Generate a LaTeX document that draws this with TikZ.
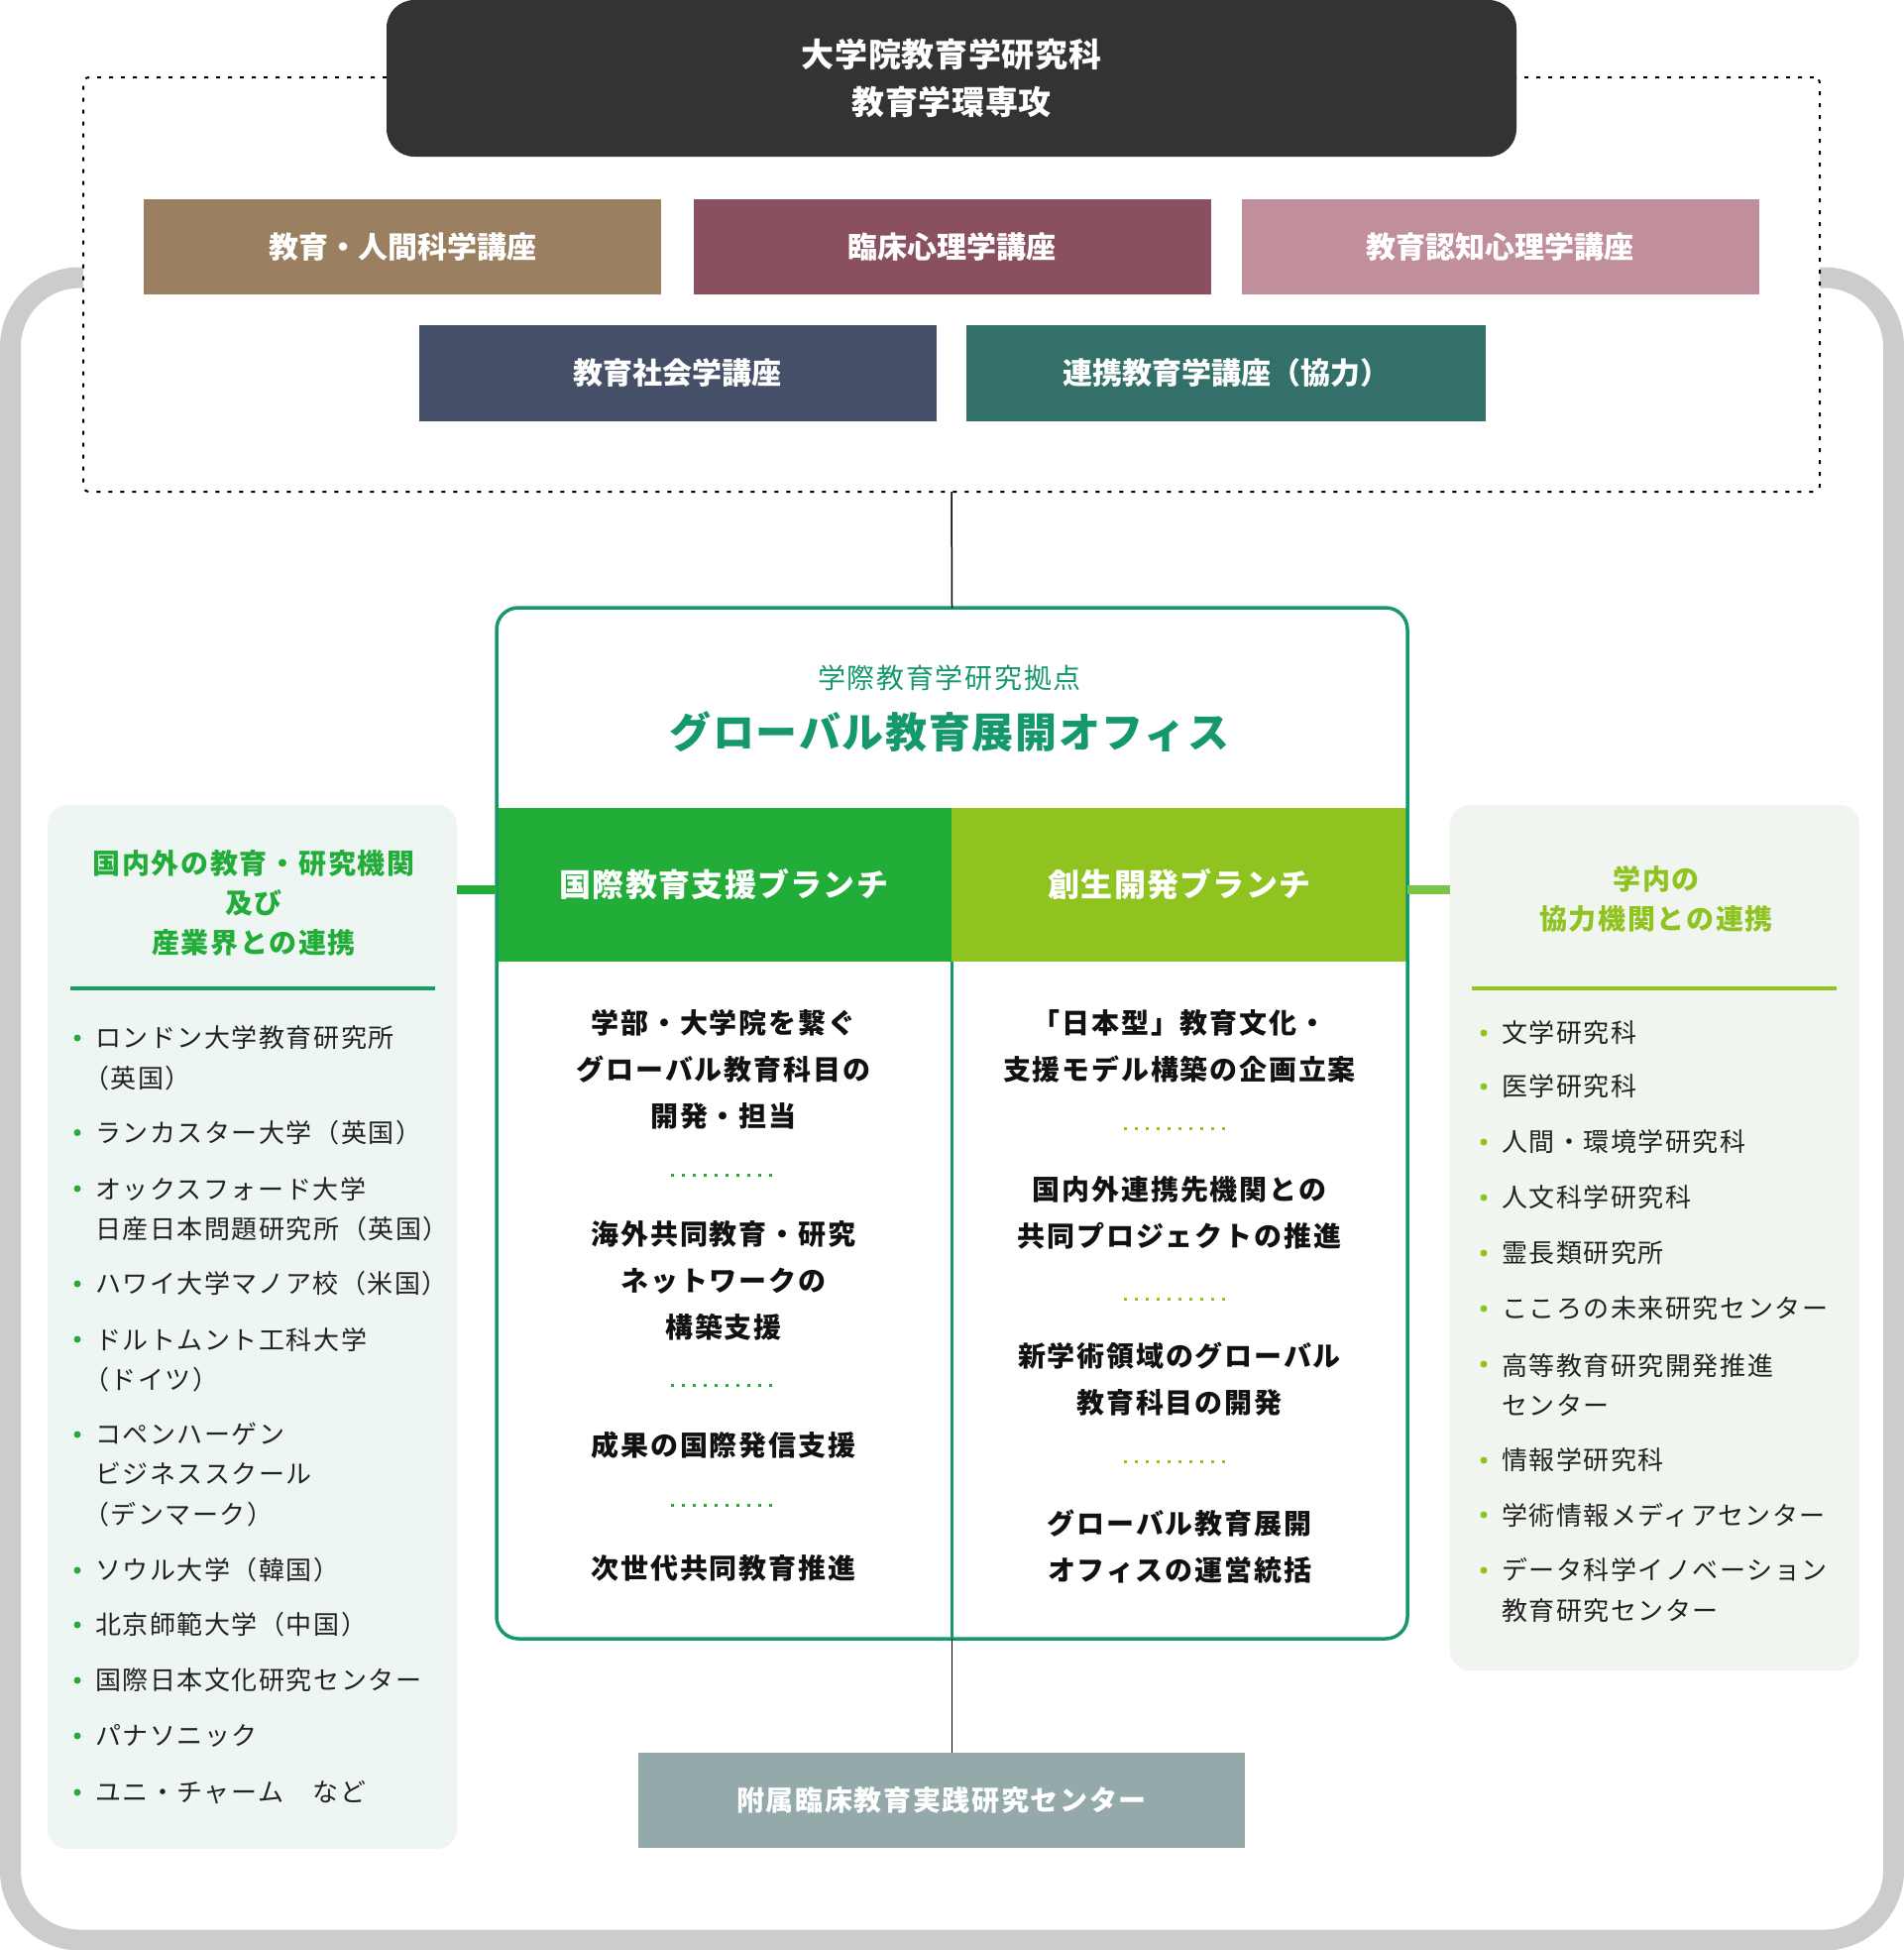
\documentclass[tikz,border=0pt]{standalone}
\usepackage{fontspec}
\setmainfont{Noto Sans CJK JP}
\newfontfamily\fA{Noto Sans CJK JP}[LetterSpace=6]
\newfontfamily\fB{Noto Sans CJK JP}[LetterSpace=6.5]
\newfontfamily\fC{Noto Sans CJK JP}[LetterSpace=4]
\newfontfamily\fD{Noto Sans CJK JP}[LetterSpace=2]
\newfontfamily\fE{Noto Sans CJK JP}[LetterSpace=0]
\definecolor{darkbox}{HTML}{333333}
\definecolor{kA}{HTML}{9A7F60}
\definecolor{kB}{HTML}{8A5060}
\definecolor{kC}{HTML}{C08F9B}
\definecolor{kD}{HTML}{455068}
\definecolor{kE}{HTML}{34706A}
\definecolor{ogreen}{HTML}{15996B}
\definecolor{lgreen}{HTML}{22AC38}
\definecolor{ygreen}{HTML}{8FC31F}
\definecolor{rconn}{HTML}{7CC544}
\definecolor{lpanel}{HTML}{EEF6F3}
\definecolor{rpanel}{HTML}{F0F5EF}
\definecolor{bottombox}{HTML}{93A9AA}
\definecolor{framegray}{HTML}{CCCCCC}
\definecolor{lline}{HTML}{18A060}
\definecolor{bodytext}{HTML}{111111}
\definecolor{listtext}{HTML}{222222}
\begin{document}
\begin{tikzpicture}[x=1pt,y=-1pt,
  every node/.style={inner sep=0pt,outer sep=0pt},
  kouza/.style={minimum width=522,minimum height=96,text=white,
    font=\fE\fontsize{30}{36}\selectfont\bfseries},
  bodyL/.style={align=center,text=bodytext,font=\fB\fontsize{28}{47}\selectfont\bfseries},
  sepL/.style={lgreen,line width=3,dash pattern=on 3pt off 8pt},
  sepR/.style={ygreen,line width=3,dash pattern=on 3pt off 8pt},
  litem/.style={anchor=west,align=left,text=listtext,font=\fA\fontsize{26}{40.5}\selectfont},
  lbul/.style={circle,fill=lgreen,minimum size=7},
  rbul/.style={circle,fill=ygreen,minimum size=7},
  ptitle/.style={align=center,font=\fA\fontsize{28}{40}\selectfont\bfseries},
]
\useasboundingbox (0,0) rectangle (1921,1967);
% outer gray frame
\draw[framegray,line width=21,rounded corners=70] (10.5,280) rectangle (1910.5,1957);
% dotted box
\node[draw=black,fill=white,line width=2,dash pattern=on 4pt off 8pt,rounded corners=6,
  minimum width=1752,minimum height=418] (dotted) at (960,287) {};
% dark title box
\node[fill=darkbox,rounded corners=28,minimum width=1140,minimum height=158,
  align=center,text=white,font=\fD\fontsize{33}{48}\selectfont\bfseries] (grad) at (960,79)
  {大学院教育学研究科\\教育学環専攻};
% kouza boxes
\node[kouza,fill=kA] (k1) at (406,249) {教育・人間科学講座};
\node[kouza,fill=kB] (k2) at (960.5,249) {臨床心理学講座};
\node[kouza,fill=kC] (k3) at (1513.5,249) {教育認知心理学講座};
\node[kouza,fill=kD,minimum height=97] (k4) at (683.5,376.5) {教育社会学講座};
\node[kouza,fill=kE,minimum height=97,minimum width=524] (k5) at (1237,376.5) {連携教育学講座（協力）};
% office box
\node[fill=white,rounded corners=22,minimum width=919,minimum height=1040] (officebg) at (960.5,1133) {};
\node[fill=lgreen,minimum width=459,minimum height=155,text=white,
  font=\fC\fontsize{32}{40}\selectfont\bfseries] (hdrL) at (730.5,892.5) {国際教育支援ブランチ};
\node[fill=ygreen,minimum width=460,minimum height=155,text=white,
  font=\fC\fontsize{32}{40}\selectfont\bfseries] (hdrR) at (1190,892.5) {創生開発ブランチ};
\node[draw=ogreen,line width=3.5,rounded corners=22,minimum width=919,minimum height=1040] (office) at (960.5,1133) {};
\draw[ogreen,line width=3] (hdrL.south east) -- (hdrL.south east |- office.south);
\node[text=ogreen,font=\fA\fontsize{28}{34}\selectfont] (sub) at (958,684) {学際教育学研究拠点};
\node[text=ogreen,font=\fC\fontsize{42}{50}\selectfont\bfseries] (otitle) at (958,738) {グローバル教育展開オフィス};
% connectors
\draw[black,line width=1.5] (dotted.south) -- (office.north);
% bottom box
\node[fill=bottombox,minimum width=612,minimum height=96,text=white,
  font=\fA\fontsize{28}{34}\selectfont\bfseries] (center) at (950,1816) {附属臨床教育実践研究センター};
\draw[black,line width=1.5] (office.south) -- (office.south |- center.north);
% left column body
\node[bodyL] (b1) at (730,1079) {学部・大学院を繋ぐ\\グローバル教育科目の\\開発・担当};
\draw[sepL] (677,1185) -- (780,1185);
\node[bodyL] (b2) at (730,1291.5) {海外共同教育・研究\\ネットワークの\\構築支援};
\draw[sepL] (677,1397) -- (780,1397);
\node[bodyL] (b3) at (730,1458) {成果の国際発信支援};
\draw[sepL] (677,1518) -- (780,1518);
\node[bodyL] (b4) at (730,1582) {次世代共同教育推進};
% right column body
\node[bodyL] (r1) at (1190,1055) {「日本型」教育文化・\\支援モデル構築の企画立案};
\draw[sepR] (1134,1138) -- (1237,1138);
\node[bodyL] (r2) at (1190,1223) {国内外連携先機関との\\共同プロジェクトの推進};
\draw[sepR] (1134,1310) -- (1237,1310);
\node[bodyL] (r3) at (1190,1391.5) {新学術領域のグローバル\\教育科目の開発};
\draw[sepR] (1134,1474) -- (1237,1474);
\node[bodyL] (r4) at (1190,1560.5) {グローバル教育展開\\オフィスの運営統括};
% left panel
\node[fill=lpanel,rounded corners=20,minimum width=413,minimum height=1053] (lpanel) at (254.5,1338.5) {};
\coordinate (lc) at (0,897);
\draw[lgreen,line width=9] (lpanel.east |- lc) -- (office.west |- lc);
\node[ptitle,text=lgreen] (lt) at (256,911) {国内外の教育・研究機関\\及び\\産業界との連携};
\draw[lline,line width=4] (70.5,997) -- (438.5,997);
\node[lbul] (lb1) at (78,1047) {};
\node[litem] (li1) at (96,1067) {ロンドン大学教育研究所\\\kern-12pt（英国）};
\node[lbul] (lb2) at (78,1142.5) {};
\node[litem] (li2) at (96,1142.5) {ランカスター大学（英国）};
\node[lbul] (lb3) at (78,1199) {};
\node[litem] (li3) at (96,1219.5) {オックスフォード大学\\日産日本問題研究所（英国）};
\node[lbul] (lb4) at (78,1295) {};
\node[litem] (li4) at (96,1295) {ハワイ大学マノア校（米国）};
\node[lbul] (lb5) at (78,1351) {};
\node[litem] (li5) at (96,1371.5) {ドルトムント工科大学\\\kern-12pt（ドイツ）};
\node[lbul] (lb6) at (78,1447) {};
\node[litem] (li6) at (96,1487) {コペンハーゲン\\ビジネススクール\\\kern-12pt（デンマーク）};
\node[lbul] (lb7) at (78,1584) {};
\node[litem] (li7) at (96,1584) {ソウル大学（韓国）};
\node[lbul] (lb8) at (78,1639) {};
\node[litem] (li8) at (96,1639) {北京師範大学（中国）};
\node[lbul] (lb9) at (78,1695) {};
\node[litem] (li9) at (96,1695) {国際日本文化研究センター};
\node[lbul] (lb10) at (78,1751) {};
\node[litem] (li10) at (96,1751) {パナソニック};
\node[lbul] (lb11) at (78,1808) {};
\node[litem] (li11) at (96,1808) {ユニ・チャーム　など};
% right panel
\node[fill=rpanel,rounded corners=20,minimum width=413,minimum height=873] (rpanel) at (1669.5,1248.5) {};
\draw[rconn,line width=9] (office.east |- lc) -- (rpanel.west |- lc);
\node[ptitle,text=ygreen] (rt) at (1671,907) {学内の\\協力機関との連携};
\draw[ygreen,line width=4] (1485,997) -- (1853,997);
\node[rbul] (rb1) at (1497,1042) {};
\node[litem] (ri1) at (1515,1042) {文学研究科};
\node[rbul] (rb2) at (1497,1096) {};
\node[litem] (ri2) at (1515,1096) {医学研究科};
\node[rbul] (rb3) at (1497,1152) {};
\node[litem] (ri3) at (1515,1152) {人間・環境学研究科};
\node[rbul] (rb4) at (1497,1208) {};
\node[litem] (ri4) at (1515,1208) {人文科学研究科};
\node[rbul] (rb5) at (1497,1264) {};
\node[litem] (ri5) at (1515,1264) {霊長類研究所};
\node[rbul] (rb6) at (1497,1320) {};
\node[litem] (ri6) at (1515,1320) {こころの未来研究センター};
\node[rbul] (rb7) at (1497,1376) {};
\node[litem] (ri7) at (1515,1397) {高等教育研究開発推進\\センター};
\node[rbul] (rb8) at (1497,1473) {};
\node[litem] (ri8) at (1515,1473) {情報学研究科};
\node[rbul] (rb9) at (1497,1528) {};
\node[litem] (ri9) at (1515,1528) {学術情報メディアセンター};
\node[rbul] (rb10) at (1497,1584) {};
\node[litem] (ri10) at (1515,1604) {データ科学イノベーション\\教育研究センター};
\end{tikzpicture}
\end{document}
